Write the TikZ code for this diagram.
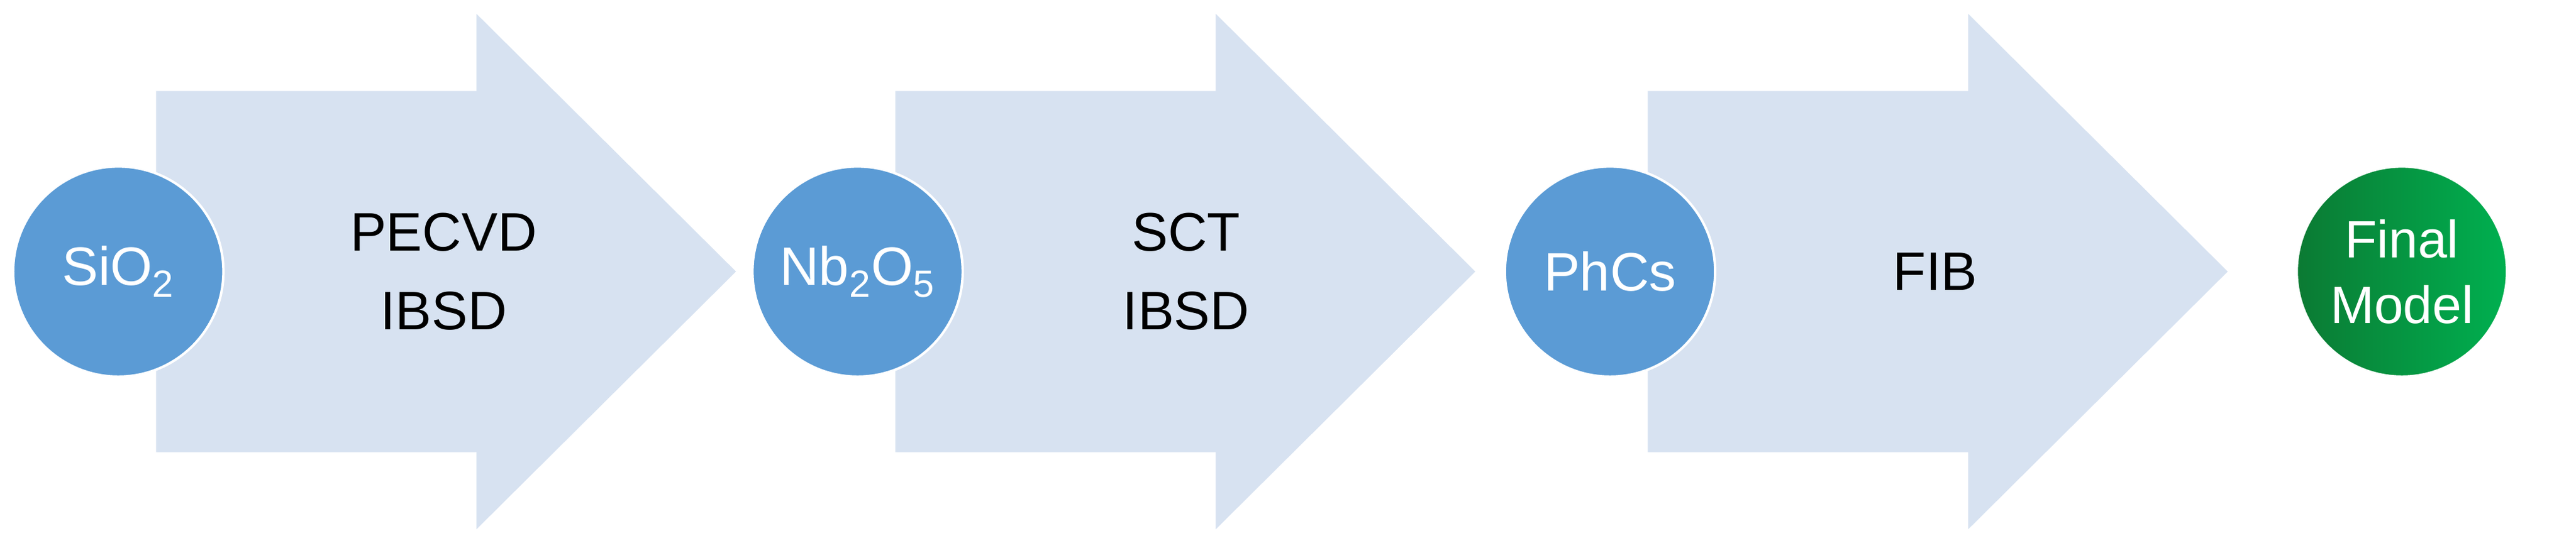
\documentclass[tikz,border=0pt]{standalone}
\usepackage{fontspec}
\setmainfont{Liberation Sans}
\definecolor{arr}{HTML}{D7E2F1}
\definecolor{cir}{HTML}{5B9BD5}
\definecolor{gA}{HTML}{0B7A33}
\definecolor{gB}{HTML}{00B050}
\begin{document}
\begin{tikzpicture}[x=1pt,y=1pt,
  ar/.style={fill=arr,draw=none},
  circ/.style={circle,fill=cir,draw=white,line width=1.5pt,minimum size=128pt,inner sep=0pt,text=white,font=\fontsize{33}{40}\selectfont,align=center},
  lab/.style={font=\fontsize{33}{48}\selectfont,align=center}]
\useasboundingbox (0,0) rectangle (1568,333.4);
\foreach \x/\n in {95/a,545/b,1003/c}{
  \fill[arr] (\x,278) -- (\x+195,278) -- (\x+195,325) -- (\x+353,168) -- (\x+195,11) -- (\x+195,58) -- (\x,58) -- cycle;
}
\node[circ] (s) at (72,168) {SiO\textsubscript{2}};
\node[circ] (n) at (522,168) {Nb\textsubscript{2}O\textsubscript{5}};
\node[circ] (p) at (980,168) {PhCs};
\node[circle,minimum size=128pt,inner sep=0pt,draw=white,line width=1.5pt,left color=gA,right color=gB,text=white,font=\fontsize{32}{40}\selectfont,align=center] (f) at (1462,168) {Final\\Model};
\node[lab] (l1) at (270,168) {PECVD\\IBSD};
\node[lab] (l2) at (722,168) {SCT\\IBSD};
\node[lab] (l3) at (1178,168) {FIB};
\end{tikzpicture}
\end{document}
